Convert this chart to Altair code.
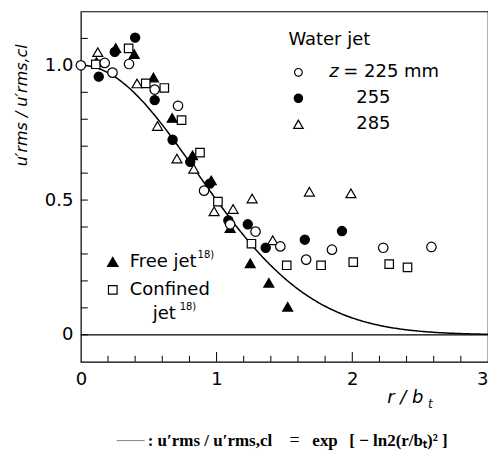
import altair as alt
import pandas as pd

# ---- data ----
# z = 225 mm (open circles)
c225_r = [0.0, 0.176, 0.233, 0.355, 0.544, 0.716, 0.908, 1.10, 1.287, 1.47, 1.66, 1.85, 2.228, 2.583]
c225_u = [1.0, 1.009, 0.973, 1.005, 0.910, 0.850, 0.535, 0.41, 0.383, 0.328, 0.279, 0.316, 0.323, 0.326]
# z = 255 mm (filled circles)
c255_r = [0.132, 0.25, 0.40, 0.544, 0.676, 0.806, 0.95, 1.087, 1.23, 1.362, 1.65, 1.924]
c255_u = [0.958, 1.05, 1.103, 0.871, 0.724, 0.642, 0.561, 0.424, 0.41, 0.323, 0.353, 0.385]
# z = 285 mm (open triangles)
c285_r = [0.125, 0.414, 0.565, 0.708, 0.832, 0.982, 1.122, 1.262, 1.414, 1.684, 1.99]
c285_u = [1.049, 0.933, 0.775, 0.654, 0.616, 0.458, 0.467, 0.506, 0.351, 0.531, 0.525]
# Free jet 18) (filled triangles)
free_r = [0.115, 0.257, 0.393, 0.535, 0.673, 0.823, 0.961, 1.10, 1.248, 1.385, 1.524]
free_u = [1.012, 1.064, 1.042, 0.955, 0.805, 0.666, 0.573, 0.396, 0.265, 0.193, 0.104]
# Confined jet 18) (open squares)
conf_r = [0.11, 0.352, 0.478, 0.615, 0.742, 0.878, 1.01, 1.257, 1.517, 1.77, 2.007, 2.272, 2.407]
conf_u = [1.004, 1.063, 0.933, 0.916, 0.797, 0.676, 0.494, 0.338, 0.258, 0.258, 0.27, 0.262, 0.25]

x_labels = [0, 1, 2, 3]
y_labels = [0, 0.5, 1.0]
y_ticks = [0.0, 0.1, 0.2, 0.3, 0.4, 0.5, 0.6, 0.7, 0.8, 0.9, 1.0, 1.1]
x_minor = [0.2, 0.4, 0.6, 0.8, 1.2, 1.4, 1.6, 1.8, 2.2, 2.4, 2.6, 2.8]
x_major = [1, 2]

W, H = 408, 351
SANS = "DejaVu Sans"
SERIF = "Liberation Serif"

xs = alt.Scale(domain=[0, 3], nice=False, zero=False)
ys = alt.Scale(domain=[-0.1, 1.2], nice=False, zero=False)

x_axis = alt.Axis(values=x_labels, ticks=False, domain=False, grid=False,
                  labelFont=SANS, labelFontSize=18, labelPadding=9, labelFlush=False,
                  labelOverlap=False, labelBound=False,
                  labelAlign=alt.condition("datum.value == 3", alt.value("right"), alt.value("center")),
                  labelColor="black", title=None, format="d")
y_axis = alt.Axis(values=y_labels, ticks=False, domain=False, grid=False,
                  labelFont=SANS, labelFontSize=18, labelPadding=8, labelFlush=False,
                  labelOverlap=False, labelBound=False,
                  labelColor="black", title=None,
                  labelExpr="datum.value == 0 ? '0' : format(datum.value, '.1f')")


def X(f="r"):
    return alt.X(f + ":Q", scale=xs, axis=x_axis)


def Y(f="u"):
    return alt.Y(f + ":Q", scale=ys, axis=y_axis)


def pts(r, u, shape, filled, size):
    df = pd.DataFrame({"r": r, "u": u})
    m = alt.Chart(df).mark_point(
        shape=shape, filled=True, size=size,
        fill="black" if filled else "white", fillOpacity=1,
        stroke="black", strokeWidth=1.2, opacity=1)
    return m.encode(x=X(), y=Y())


def txt(s, x, y, size=18, font=SANS, style="normal", align="left", angle=0, weight="normal"):
    return alt.Chart(pd.DataFrame({"t": [s]})).mark_text(
        text=s, font=font, fontSize=size, fontStyle=style, align=align,
        baseline="middle", angle=angle, fontWeight=weight, color="black"
    ).encode(x=alt.value(x), y=alt.value(y))


def sym(shape, filled, x, y, size):
    return alt.Chart(pd.DataFrame({"s": [shape]})).mark_point(
        shape=shape, size=size, filled=True,
        fill="black" if filled else "white", stroke="black", strokeWidth=1.2, opacity=1
    ).encode(x=alt.value(x), y=alt.value(y))


base = alt.Chart(pd.DataFrame({"r": [0, 3], "u": [-0.1, 1.2]})).mark_point(opacity=0).encode(
    x=X(), y=Y())

curve = alt.Chart(alt.sequence(0, 3.001, 0.01, as_="r")).transform_calculate(
    u="exp(-log(2) * datum.r * datum.r)"
).mark_line(color="black", strokeWidth=1.5).encode(x=X(), y=Y())

zero = alt.Chart(pd.DataFrame({"u": [0]})).mark_rule(color="black", strokeWidth=1.2).encode(y=Y())

yt = alt.Chart(pd.DataFrame({"u": y_ticks})).mark_rule(color="black", strokeWidth=1).encode(
    y=Y(), x=alt.value(0), x2=alt.value(7))


def xticks(vals, top):
    return alt.Chart(pd.DataFrame({"tr": vals})).transform_calculate(
        a="-0.1", b=str(top)).mark_rule(color="black", strokeWidth=1).encode(
        x=X("tr"), x2=alt.X2("tr"), y=Y("a"), y2=alt.Y2("b"))


layers = [
    base, curve, zero, yt, xticks(x_minor, -0.078), xticks(x_major, -0.064),
    pts(free_r, free_u, "triangle-up", True, 100),
    pts(c255_r, c255_u, "circle", True, 85),
    pts(conf_r, conf_u, "square", False, 72),
    pts(c285_r, c285_u, "triangle-up", False, 100),
    pts(c225_r, c225_u, "circle", False, 90),
    # legend: water jet
    txt("Water jet", 208, 29),
    sym("circle", False, 218, 61, 60),
    txt("z", 249, 61, style="italic"),
    txt("= 225  mm", 263, 61),
    sym("circle", True, 218, 87, 70),
    txt("255", 276, 87),
    sym("triangle-up", False, 218, 113, 90),
    txt("285", 276, 113),
    # legend: literature
    sym("triangle-up", True, 32, 251, 110),
    txt("Free jet", 49, 251),
    txt("18)", 117, 244, size=10),
    sym("square", False, 32, 279, 75),
    txt("Confined", 49, 279),
    txt("jet", 72, 303),
    txt("18)", 99, 296, size=10),
    # axis titles
    txt("u\u2032rms / u\u2032rms,cl", -59, 94, size=16, style="italic", align="center", angle=270),
    txt("r / b", 307, 387, style="italic"),
    txt("t", 348, 393, size=12, style="italic"),
    # caption
    alt.Chart(pd.DataFrame({"a": [0]})).mark_rule(color="#888888", strokeWidth=1).encode(
        x=alt.value(36), x2=alt.value(64), y=alt.value(430)),
    txt(":  u\u2032rms / u\u2032rms,cl", 67, 430, size=17, font=SERIF, weight="bold"),
    txt("=", 209, 430, size=18, font=SERIF),
    txt("exp", 232, 430, size=17, font=SERIF, weight="bold"),
    txt("[ \u2212 ln2(r/b\u209c)\u00b2 ]", 269, 430, size=17, font=SERIF, weight="bold"),
]

chart = alt.layer(*layers).properties(
    width=W, height=H,
    autosize=alt.AutoSizeParams(type="none"),
    padding={"left": 73, "top": 3, "right": 0, "bottom": 100},
).configure_view(stroke="black", strokeWidth=1.2)

chart.save("out.html", embed_options={"renderer": "svg", "actions": False})
